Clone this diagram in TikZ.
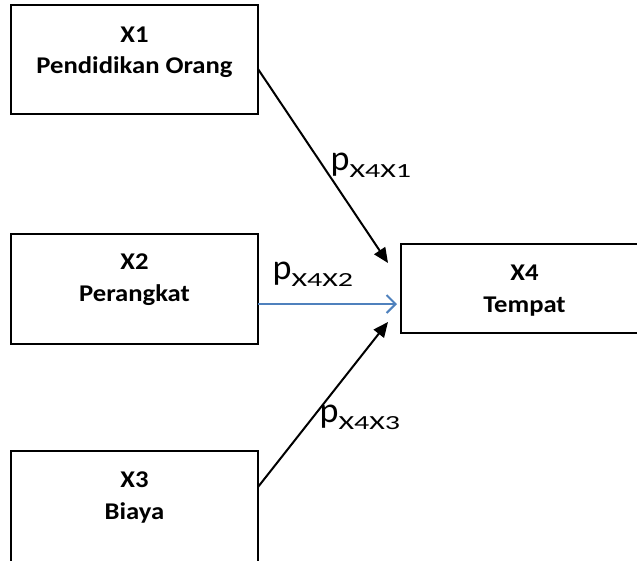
\documentclass[tikz,border=0pt]{standalone}
\usepackage{fontspec}
\setmainfont{Carlito}
\usepackage{graphicx}
\usetikzlibrary{arrows.meta}
\definecolor{wordblue}{RGB}{79,129,189}
\tikzset{
  box/.style={draw=black, line width=2pt, rectangle, inner sep=0pt, outer sep=0pt, fill=white},
  boxtxt/.style={anchor=base, inner sep=0pt},
  blk/.style={draw=black, line width=2pt, -{Triangle[length=15pt,width=13pt]}},
  blu/.style={draw=wordblue, line width=2pt, -{Straight Barb[length=9pt,width=18pt,line width=2pt]}},
  plabel/.style={anchor=base west, inner sep=0pt, font=\fontsize{36}{36}\selectfont}
}
\newcommand{\subx}[1]{\raisebox{-7.5pt}{\scalebox{1.5}[1]{\fontsize{20}{20}\selectfont #1}}}
\newcommand{\bt}[1]{\scalebox{1.11}[1]{\fontsize{24}{24}\selectfont\bfseries #1}}
\begin{document}
\begin{tikzpicture}[x=1pt,y=-1pt]
\useasboundingbox (0,0) rectangle (637,560);
\node[box, minimum width=247pt, minimum height=109pt] (x1) at (134.5,59.5) {};
\node[box, minimum width=247pt, minimum height=110pt] (x2) at (134.5,289) {};
\node[box, minimum width=247pt, minimum height=116pt] (x3) at (134.5,509) {};
\node[box, minimum width=247pt, minimum height=89pt] (x4) at (524.5,288.5) {};
\node[boxtxt] (x1a) at (134.5,42) {\bt{X1}};
\node[boxtxt] (x1b) at (134.5,73) {\bt{Pendidikan Orang}};
\node[boxtxt] (x2a) at (134.5,269) {\bt{X2}};
\node[boxtxt] (x2b) at (134.5,301) {\bt{Perangkat}};
\node[boxtxt] (x3a) at (134.5,487) {\bt{X3}};
\node[boxtxt] (x3b) at (134.5,519) {\bt{Biaya}};
\node[boxtxt] (x4a) at (524.5,280) {\bt{X4}};
\node[boxtxt] (x4b) at (524.5,312) {\bt{Tempat}};
\coordinate (t1) at (388,263);
\coordinate (t2) at (397,304);
\coordinate (t3) at (388,322);
\draw[blk] ([yshift=-9.5pt]x1.east) -- (t1);
\draw[blu] ([yshift=-15pt]x2.east) -- (t2);
\draw[blk] ([yshift=22pt]x3.east) -- (t3);
\node[plabel] (p1) at (330.5,170) {p\subx{X4X1}};
\node[plabel] (p2) at (272.5,279) {p\subx{X4X2}};
\node[plabel] (p3) at (319.5,422) {p\subx{X4X3}};
\end{tikzpicture}
\end{document}
